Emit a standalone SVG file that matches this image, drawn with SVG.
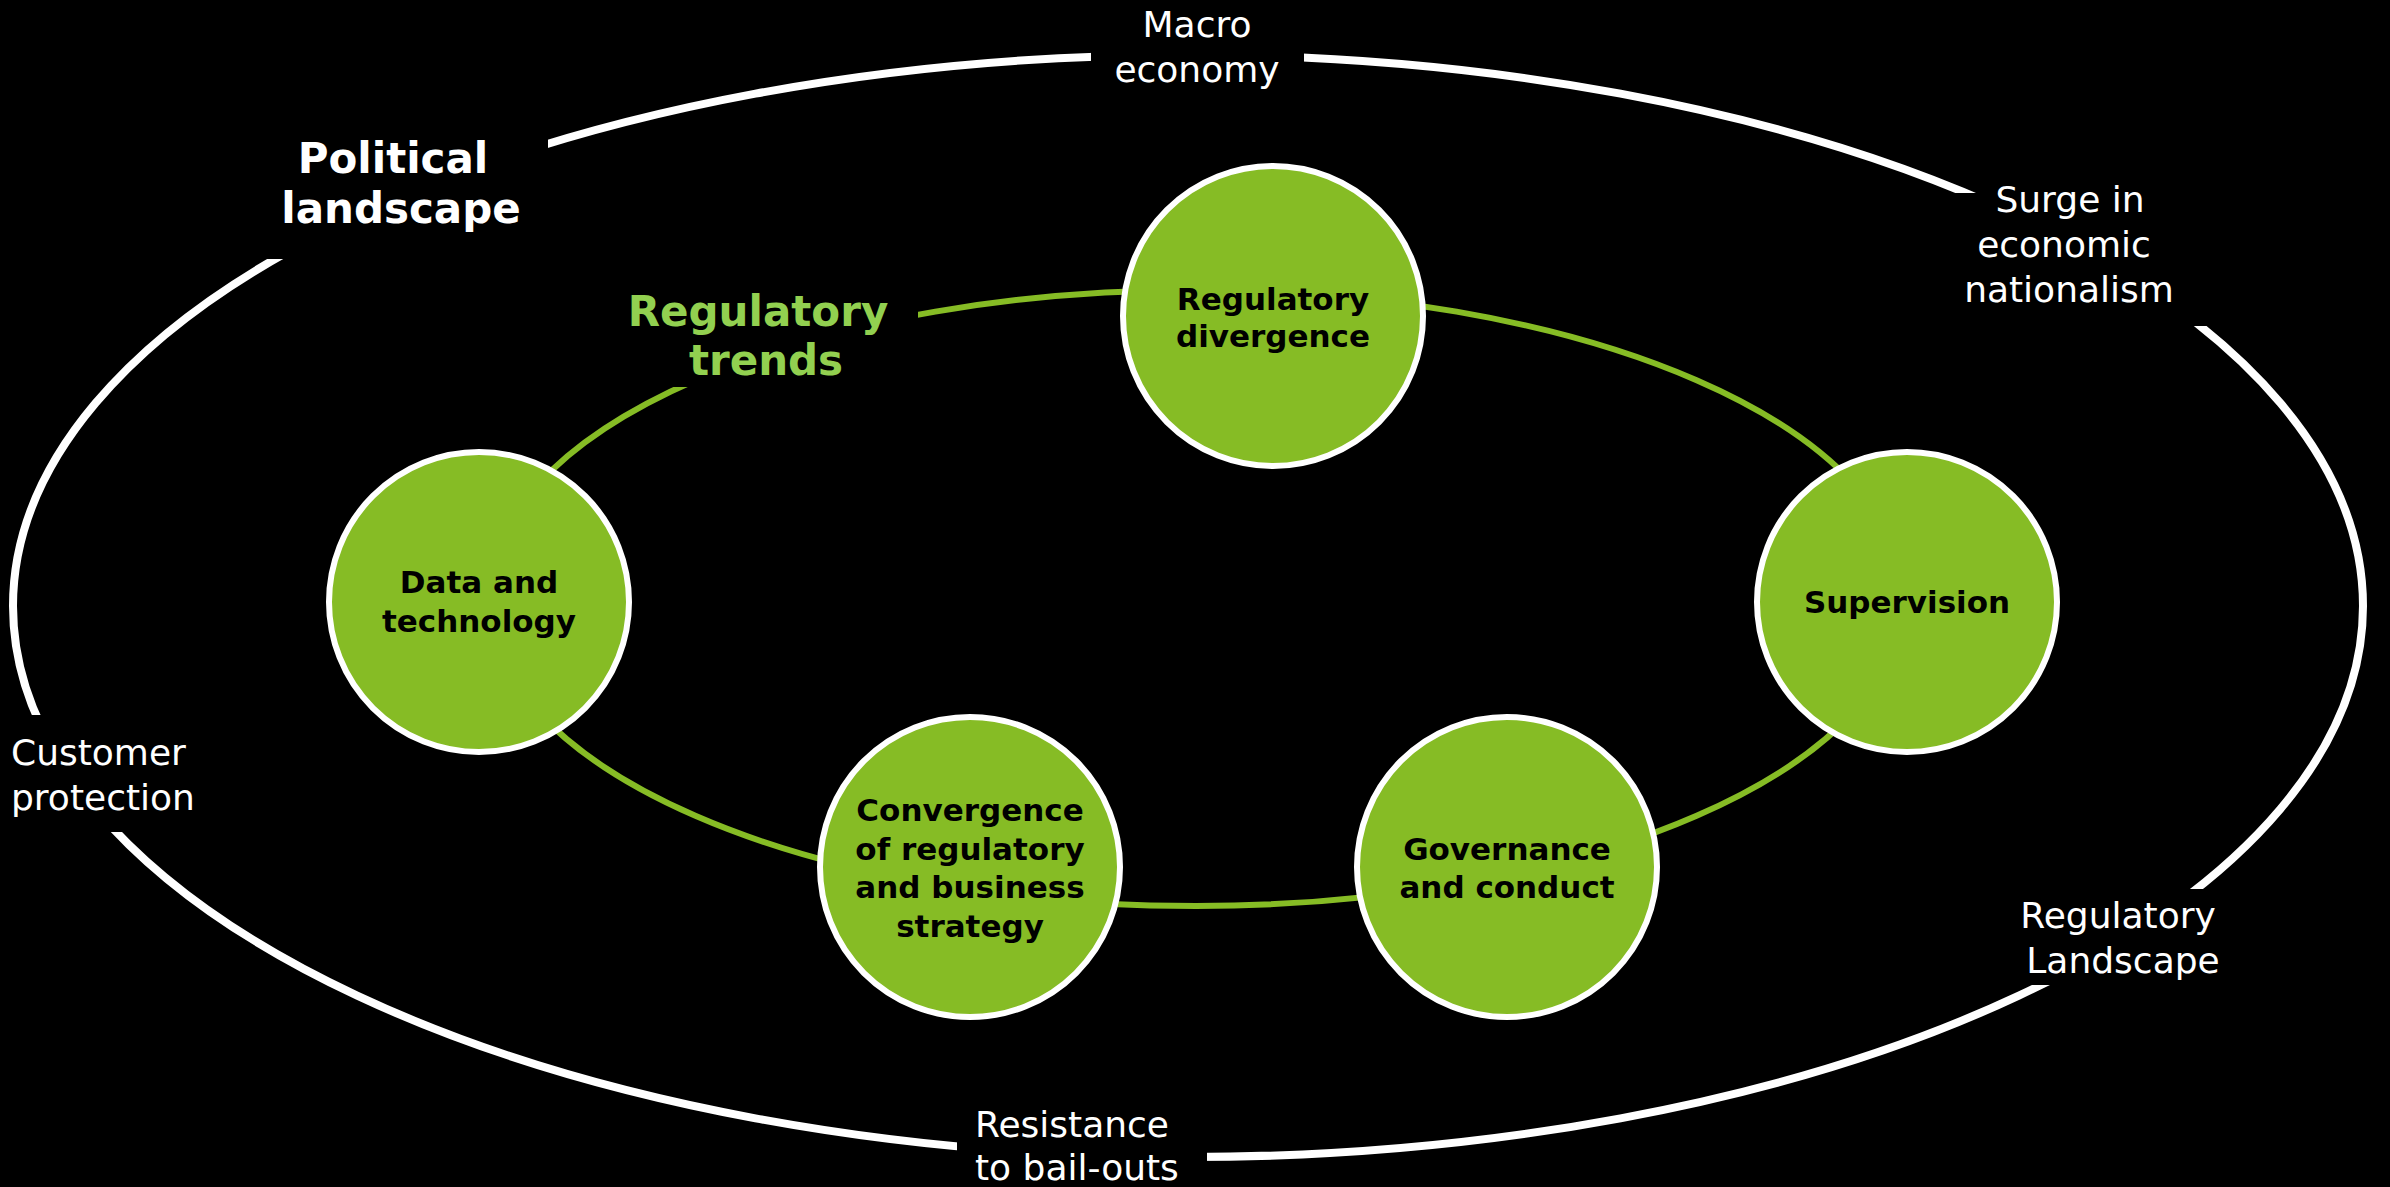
<svg xmlns="http://www.w3.org/2000/svg" width="2390" height="1187" viewBox="0 0 2390 1187">
  <style>
    .bg { fill: #000000; }
    .mask { fill: #000000; stroke: none; }
    .outer { fill: none; stroke: #FFFFFF; stroke-width: 8; }
    .trend { fill: none; stroke: #86BC25; stroke-width: 6; }
    .node { fill: #86BC25; stroke: #FFFFFF; stroke-width: 6; }
    .nt { font-family: "DejaVu Sans", "Liberation Sans", sans-serif; font-weight: bold; font-size: 31px; fill: #000000; text-anchor: middle; }
    .ol { font-family: "DejaVu Sans", "Liberation Sans", sans-serif; font-size: 36px; fill: #FFFFFF; text-anchor: middle; }
    .ols { font-family: "DejaVu Sans", "Liberation Sans", sans-serif; font-size: 36px; fill: #FFFFFF; text-anchor: start; }
    .pl { font-family: "DejaVu Sans", "Liberation Sans", sans-serif; font-weight: bold; font-size: 42px; fill: #FFFFFF; text-anchor: middle; }
    .rt { font-family: "DejaVu Sans", "Liberation Sans", sans-serif; font-weight: bold; font-size: 42px; fill: #92D050; text-anchor: middle; }
  </style>
  <rect class="bg" x="0" y="0" width="2390" height="1187"/>

  <g id="outer-ring">
    <ellipse class="outer" cx="1188" cy="606" rx="1175" ry="551"/>
  </g>

  <g id="connectors">
    <ellipse class="trend" cx="1196" cy="598" rx="708" ry="308"/>
  </g>

  <g id="label-masks">
    <rect class="mask" x="1091" y="0" width="213" height="100"/>
    <rect class="mask" x="200" y="110" width="348" height="149"/>
    <rect class="mask" x="1950" y="193" width="300" height="133"/>
    <rect class="mask" x="2000" y="889" width="240" height="96"/>
    <rect class="mask" x="957" y="1090" width="250" height="97"/>
    <rect class="mask" x="0" y="715" width="210" height="117"/>
    <rect class="mask" x="600" y="260" width="318" height="127"/>
  </g>

  <g id="label-macro-economy">
    <text class="ol" x="1197" y="37">Macro</text>
    <text class="ol" x="1197" y="82">economy</text>
  </g>
  <g id="label-political-landscape">
    <text class="pl" x="393" y="173">Political</text>
    <text class="pl" x="401" y="223">landscape</text>
  </g>
  <g id="label-economic-nationalism">
    <text class="ol" x="2070" y="212">Surge in</text>
    <text class="ol" x="2064" y="257">economic</text>
    <text class="ol" x="2069" y="302">nationalism</text>
  </g>
  <g id="label-customer-protection">
    <text class="ols" x="11" y="765">Customer</text>
    <text class="ols" x="11" y="810">protection</text>
  </g>
  <g id="label-bail-outs">
    <text class="ols" x="975" y="1137">Resistance</text>
    <text class="ols" x="975" y="1180">to bail-outs</text>
  </g>
  <g id="label-regulatory-landscape">
    <text class="ol" x="2118" y="928">Regulatory</text>
    <text class="ol" x="2123" y="973">Landscape</text>
  </g>
  <g id="label-regulatory-trends">
    <text class="rt" x="758" y="326">Regulatory</text>
    <text class="rt" x="766" y="375">trends</text>
  </g>

  <g id="node-regulatory-divergence">
    <circle class="node" cx="1273" cy="316" r="150"/>
    <text class="nt" x="1273" y="310">Regulatory</text>
    <text class="nt" x="1273" y="347">divergence</text>
  </g>
  <g id="node-data-technology">
    <circle class="node" cx="479" cy="602" r="150"/>
    <text class="nt" x="479" y="593">Data and</text>
    <text class="nt" x="479" y="632">technology</text>
  </g>
  <g id="node-supervision">
    <circle class="node" cx="1907" cy="602" r="150"/>
    <text class="nt" x="1907" y="613">Supervision</text>
  </g>
  <g id="node-convergence">
    <circle class="node" cx="970" cy="867" r="150"/>
    <text class="nt" x="970" y="821">Convergence</text>
    <text class="nt" x="970" y="860">of regulatory</text>
    <text class="nt" x="970" y="898">and business</text>
    <text class="nt" x="970" y="937">strategy</text>
  </g>
  <g id="node-governance">
    <circle class="node" cx="1507" cy="867" r="150"/>
    <text class="nt" x="1507" y="860">Governance</text>
    <text class="nt" x="1507" y="898">and conduct</text>
  </g>
</svg>
